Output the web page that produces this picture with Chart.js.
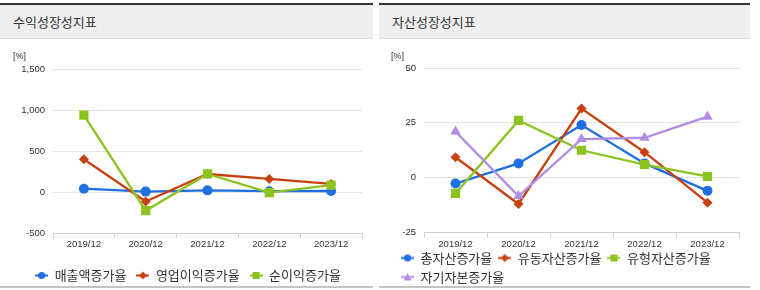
<!DOCTYPE html>
<html>
<head>
<meta charset="utf-8">
<script src="https://cdn.jsdelivr.net/npm/chart.js@4"></script>
<style>
  html, body { margin: 0; padding: 0; background: #fff; width: 760px; height: 290px; overflow: hidden; }
  .panel { position: absolute; top: 3px; height: 285px; }
  .hdr { position: absolute; left: 0; right: 0; top: 0; height: 33px; background: #efefef;
         border-top: 2px solid #333; border-bottom: 1px solid #dcdcdc; }
  .hdr span { position: absolute; left: 13px; top: 8px; font: 13px "Noto Sans CJK KR", sans-serif; color: #333; line-height: 17px; }
  .unit { position: absolute; top: 47px; left: 13px; font: 9px "Liberation Sans", Arial, sans-serif; color: #333; line-height: 12px; z-index: 3; }
  .bottomline { position: absolute; left: 0; right: 0; top: 283px; height: 2px; background: #c4c4c4; z-index: 4; }
  canvas { position: absolute; left: 0; top: 0; }
</style>
</head>
<body>
<div class="panel" id="p1" style="left:0; width:373px;">
  <div class="hdr"><span>수익성장성지표</span></div>
  <div class="unit">[%]</div>
  <div style="position:absolute;left:0;top:36px;width:373px;height:264px;"><canvas id="c1" width="373" height="253"></canvas></div>
  <div class="bottomline"></div>
</div>
<div class="panel" id="p2" style="left:379px; width:371px;">
  <div class="hdr"><span>자산성장성지표</span></div>
  <div class="unit" style="left:12px">[%]</div>
  <div style="position:absolute;left:0;top:36px;width:371px;height:264px;"><canvas id="c2" width="371" height="262"></canvas></div>
  <div class="bottomline"></div>
</div>
<script>
const categories = ['2019/12', '2020/12', '2021/12', '2022/12', '2023/12'];

// 수익성장성지표
const salesGrowth = [40, 5, 20, 10, 12];
const operatingProfitGrowth = [400, -116, 219, 159, 99];
const netProfitGrowth = [937, -227, 220, -8, 84];
const profitTicks = [-500, 0, 500, 1000, 1500];

// 자산성장성지표
const totalAssetGrowth = [-2.7, 6.5, 24.0, 6.5, -6.0];
const currentAssetGrowth = [9.3, -12.0, 31.5, 11.6, -11.4];
const tangibleAssetGrowth = [-7.2, 26.1, 12.5, 6.0, 0.6];
const equityGrowth = [21.0, -8.4, 17.6, 18.2, 27.8];
const assetTicks = [-25, 0, 25, 50];

const BLUE = '#1f6fe0', RED = '#c8400f', GREEN = '#8cc31e', PURPLE = '#b28ee2';
const TICK_FONT = { family: '"Liberation Sans", Arial, sans-serif', size: 9.5 };
const LEGEND_FONT = { family: '"Noto Sans CJK KR", sans-serif', size: 13 };

function legendIcon(color, style) {
  const c = document.createElement('canvas');
  c.width = 13; c.height = 9;
  const g = c.getContext('2d');
  g.strokeStyle = color; g.fillStyle = color; g.lineWidth = 2;
  g.beginPath(); g.moveTo(0, 4.5); g.lineTo(13, 4.5); g.stroke();
  g.beginPath();
  if (style === 'circle') { g.arc(6.5, 4.5, 3.6, 0, Math.PI * 2); }
  else if (style === 'rectRot') { g.moveTo(6.5, 0.5); g.lineTo(10.5, 4.5); g.lineTo(6.5, 8.5); g.lineTo(2.5, 4.5); g.closePath(); }
  else if (style === 'rect') { g.rect(3, 1, 7, 7); }
  else if (style === 'triangle') { g.moveTo(6.5, 0.5); g.lineTo(10.5, 8); g.lineTo(2.5, 8); g.closePath(); }
  g.fill();
  return c;
}

// shifts the legend box after layout (horizontal dx, vertical dy)
const legendShift = {
  id: 'legendShift',
  afterLayout(chart, args, o) {
    const l = chart.legend;
    if (!l || !o) return;
    if (o.dx) { l.left += o.dx; l.right += o.dx; }
    if (o.dy) { l.top += o.dy; l.bottom += o.dy; }
  }
};

function ds(label, data, color, style, radius, order) {
  return {
    label, data, order,
    borderColor: color, backgroundColor: color,
    pointBackgroundColor: color, pointBorderColor: color,
    pointStyle: style, pointRadius: radius, pointBorderWidth: 0,
    borderWidth: 2.3, tension: 0, fill: false,
    _icon: legendIcon(color, style)
  };
}

function makeChart(id, datasets, ticks, opts) {
  return new Chart(document.getElementById(id), {
    type: 'line',
    data: { labels: categories, datasets },
    plugins: [legendShift],
    options: {
      responsive: false, animation: false,
      layout: { padding: { left: 0, right: 11, top: opts.padTop, bottom: 0 } },
      plugins: {
        tooltip: { enabled: false },
        legendShift: { dx: opts.legendDx, dy: opts.legendDy },
        legend: {
          position: 'bottom', align: opts.legendAlign,
          labels: {
            usePointStyle: true, boxWidth: 13, boxHeight: 9,
            padding: opts.legendPad, color: '#333', font: LEGEND_FONT,
            generateLabels(chart) {
              const items = Chart.defaults.plugins.legend.labels.generateLabels(chart);
              items.sort((a, b) => a.datasetIndex - b.datasetIndex);
              items.forEach(it => { it.pointStyle = chart.data.datasets[it.datasetIndex]._icon; });
              return items;
            }
          }
        }
      },
      scales: {
        x: {
          offset: true,
          grid: { offset: true, drawOnChartArea: false, drawTicks: true, tickLength: 5, color: '#cfcfcf' },
          border: { color: '#cfcfcf', width: 1 },
          ticks: { color: '#333', font: TICK_FONT, padding: 1, maxRotation: 0 },
          afterFit(s) { s.height = opts.xHeight; }
        },
        y: {
          min: ticks[0], max: ticks[ticks.length - 1],
          afterBuildTicks(s) { s.ticks = ticks.map(v => ({ value: v })); },
          grid: { color: '#e4e4e4', drawTicks: false, lineWidth: 1 },
          border: { display: false },
          ticks: {
            color: '#333', font: TICK_FONT, padding: 8,
            callback: v => v.toLocaleString('en-US')
          },
          afterFit(s) { s.width = opts.yWidth; }
        }
      }
    }
  });
}

makeChart('c1', [
  ds('매출액증가율', salesGrowth, BLUE, 'circle', 5, 2),
  ds('영업이익증가율', operatingProfitGrowth, RED, 'rectRot', 5, 1),
  ds('순이익증가율', netProfitGrowth, GREEN, 'rect', 6.5, 0)
], profitTicks, { padTop: 30, yWidth: 53, xHeight: 26, legendAlign: 'center', legendPad: 10, legendDx: 7, legendDy: 0 });

makeChart('c2', [
  ds('총자산증가율', totalAssetGrowth, BLUE, 'circle', 5, 3),
  ds('유동자산증가율', currentAssetGrowth, RED, 'rectRot', 5, 2),
  ds('유형자산증가율', tangibleAssetGrowth, GREEN, 'rect', 6.5, 1),
  ds('자기자본증가율', equityGrowth, PURPLE, 'triangle', 6, 0)
], assetTicks, { padTop: 29, yWidth: 45, xHeight: 20.5, legendAlign: 'start', legendPad: 6, legendDx: 16, legendDy: -7.5 });
</script>
</body>
</html>
